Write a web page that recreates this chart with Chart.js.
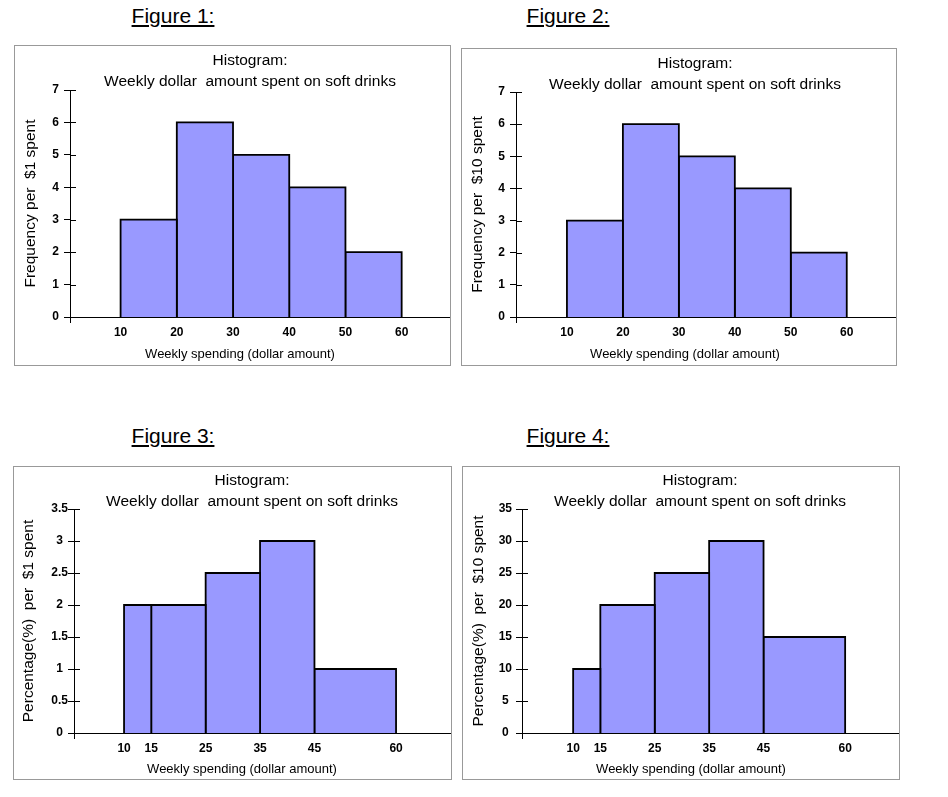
<!DOCTYPE html>
<html>
<head>
<meta charset="utf-8">
<script src="https://cdn.jsdelivr.net/npm/chart.js@4.4.1/dist/chart.umd.min.js"></script>
<style>
    body { margin: 0; background: #fff; font-family: "Liberation Sans", Arial, sans-serif; }
    .page { position: relative; width: 948px; height: 797px; }
    .fig-label { position: absolute; width: 200px; text-align: center; font-size: 21px; line-height: 21px; text-decoration: underline; color: #000; }
    .panel { position: absolute; border: 1px solid #999; background: #fff; }
    .panel canvas { position: absolute; left: 0; top: 0; }
    .chart-title { position: absolute; width: 400px; text-align: center; font-size: 15.5px; line-height: 20.5px; color: #000; white-space: pre; }
    .x-title { position: absolute; width: 300px; text-align: center; font-size: 13px; line-height: 15px; color: #000; }
</style>
</head>
<body>
<div class="page">
    <div class="fig-label" style="left:73px; top:5px;">Figure 1:</div>
    <div class="fig-label" style="left:468px; top:5px;">Figure 2:</div>
    <div class="fig-label" style="left:73px; top:425px;">Figure 3:</div>
    <div class="fig-label" style="left:468px; top:425px;">Figure 4:</div>

    <div class="panel" style="left:14px; top:45px; width:435px; height:319px;"><canvas id="fig1"></canvas></div>
    <div class="panel" style="left:461px; top:48px; width:434px; height:316px;"><canvas id="fig2"></canvas></div>
    <div class="panel" style="left:13px; top:466px; width:437px; height:312px;"><canvas id="fig3"></canvas></div>
    <div class="panel" style="left:462px; top:466px; width:436px; height:312px;"><canvas id="fig4"></canvas></div>

    <div class="chart-title" style="left:50px; top:50px;">Histogram:
Weekly dollar  amount spent on soft drinks</div>
    <div class="chart-title" style="left:495px; top:53px;">Histogram:
Weekly dollar  amount spent on soft drinks</div>
    <div class="chart-title" style="left:52px; top:470px;">Histogram:
Weekly dollar  amount spent on soft drinks</div>
    <div class="chart-title" style="left:500px; top:470px;">Histogram:
Weekly dollar  amount spent on soft drinks</div>

    <div class="x-title" style="left:90px; top:346px;">Weekly spending (dollar amount)</div>
    <div class="x-title" style="left:535px; top:346px;">Weekly spending (dollar amount)</div>
    <div class="x-title" style="left:92px; top:761px;">Weekly spending (dollar amount)</div>
    <div class="x-title" style="left:541px; top:761px;">Weekly spending (dollar amount)</div>
</div>

<script>
// Data
const edges12 = [10, 20, 30, 40, 50, 60];
const freqPer1 = [3, 6, 5, 4, 2];
const freqPer10 = [3, 6, 5, 4, 2];

const edges34 = [10, 15, 25, 35, 45, 60];
const pctPer1 = [2, 2, 2.5, 3, 1];
const pctPer10 = [10, 20, 25, 30, 15];

const xTicks12 = [10, 20, 30, 40, 50, 60];
const xTicks34 = [10, 15, 25, 35, 45, 60];

const barFill = '#9999FF';
const fontFamily = '"Liberation Sans", Arial, sans-serif';

// one closed outline per bin, filled down to zero
function binDatasets(edges, heights) {
    return heights.map(function(h, i) {
        return {
            data: [
                { x: edges[i], y: 0 },
                { x: edges[i], y: h },
                { x: edges[i + 1], y: h },
                { x: edges[i + 1], y: 0 }
            ],
            showLine: true,
            fill: 'origin',
            backgroundColor: barFill,
            borderColor: '#000',
            borderWidth: 1.8,
            pointRadius: 0,
            tension: 0
        };
    });
}

// inward half of the y tick marks and the small stub below the x axis
const axisMarks = {
    id: 'axisMarks',
    afterDraw(chart) {
        const y = chart.scales.y;
        const ctx = chart.ctx;
        ctx.save();
        ctx.strokeStyle = '#000';
        ctx.lineWidth = 1;
        ctx.beginPath();
        y.ticks.forEach(function(t) {
            const py = Math.round(y.getPixelForValue(t.value)) + 0.5;
            ctx.moveTo(y.right, py);
            ctx.lineTo(y.right + 6, py);
        });
        const x0 = Math.round(y.right) + 0.5;
        ctx.moveTo(x0, y.bottom);
        ctx.lineTo(x0, y.bottom + 6);
        ctx.stroke();
        ctx.restore();
    }
};

function makeHistogram(id, cfg) {
    const canvas = document.getElementById(id);
    const parent = canvas.parentElement;
    canvas.width = parent.clientWidth;
    canvas.height = parent.clientHeight;
    canvas.style.width = parent.clientWidth + 'px';
    canvas.style.height = parent.clientHeight + 'px';

    return new Chart(canvas, {
        type: 'scatter',
        data: { datasets: binDatasets(cfg.edges, cfg.values) },
        plugins: [axisMarks],
        options: {
            responsive: false,
            animation: false,
            devicePixelRatio: 1,
            layout: { padding: { top: cfg.top, left: 0, right: 0, bottom: 0 } },
            plugins: {
                legend: { display: false },
                tooltip: { enabled: false },
                title: { display: false }
            },
            scales: {
                x: {
                    type: 'linear',
                    min: cfg.xMin,
                    max: cfg.xMax,
                    afterBuildTicks: function(axis) {
                        axis.ticks = cfg.xTicks.map(function(v) { return { value: v }; });
                    },
                    afterFit: function(axis) { axis.height = cfg.xHeight; },
                    grid: { drawOnChartArea: false, drawTicks: false },
                    border: { display: true, color: '#000', width: 1 },
                    ticks: {
                        autoSkip: false,
                        maxRotation: 0,
                        padding: 8,
                        color: '#000',
                        font: { family: fontFamily, size: 12, weight: 'bold' }
                    }
                },
                y: {
                    min: 0,
                    max: cfg.yMax,
                    afterFit: function(axis) { axis.width = cfg.yWidth; },
                    grid: { drawOnChartArea: false, drawTicks: true, tickLength: 6, color: '#000' },
                    border: { display: true, color: '#000', width: 1 },
                    ticks: {
                        stepSize: cfg.yStep,
                        padding: cfg.tickPad,
                        crossAlign: 'center',
                        color: '#000',
                        font: { family: fontFamily, size: 12, weight: 'bold' },
                        callback: function(v) { return String(v); }
                    },
                    title: {
                        display: true,
                        text: cfg.yTitle,
                        color: '#000',
                        font: { family: fontFamily, size: 15.5 },
                        padding: { top: cfg.titlePad, bottom: 0 }
                    }
                }
            }
        }
    });
}

makeHistogram('fig1', {
    edges: edges12, values: freqPer1, xTicks: xTicks12,
    yMax: 7, yStep: 1, yTitle: 'Frequency per  $1 spent',
    xMin: 1.0, xMax: 68.6,
    top: 44, yWidth: 55, xHeight: 48, tickPad: 5, titlePad: 6
});
makeHistogram('fig2', {
    edges: edges12, values: freqPer10, xTicks: xTicks12,
    yMax: 7, yStep: 1, yTitle: 'Frequency per  $10 spent',
    xMin: 0.9, xMax: 68.8,
    top: 43, yWidth: 54, xHeight: 48, tickPad: 5, titlePad: 6
});
makeHistogram('fig3', {
    edges: edges34, values: pctPer1, xTicks: xTicks34,
    yMax: 3.5, yStep: 0.5, yTitle: 'Percentage(%)  per  $1 spent',
    xMin: 0.8, xMax: 70.1,
    top: 42, yWidth: 60, xHeight: 46, tickPad: 0, titlePad: 5
});
makeHistogram('fig4', {
    edges: edges34, values: pctPer10, xTicks: xTicks34,
    yMax: 35, yStep: 5, yTitle: 'Percentage(%)  per  $10 spent',
    xMin: 0.6, xMax: 69.9,
    top: 42, yWidth: 59, xHeight: 46, tickPad: 4, titlePad: 6
});
</script>
</body>
</html>
